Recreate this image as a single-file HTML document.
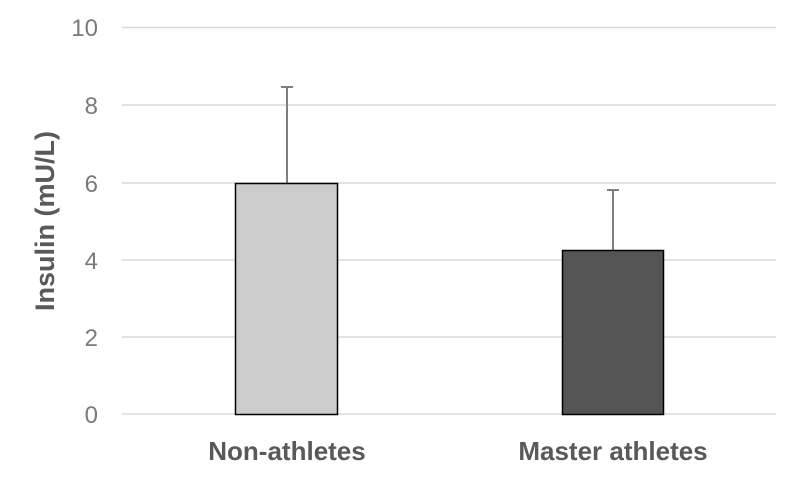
<!DOCTYPE html>
<html><head><style>body{margin:0;background:#fff}</style></head><body>
<svg width="800" height="481" xmlns="http://www.w3.org/2000/svg" font-family="Liberation Sans, sans-serif">
<g stroke="#d9d9d9" stroke-width="1.5">
<line x1="122" x2="776" y1="27.5" y2="27.5"/>
<line x1="122" x2="776" y1="105" y2="105"/>
<line x1="122" x2="776" y1="183" y2="183"/>
<line x1="122" x2="776" y1="260" y2="260"/>
<line x1="122" x2="776" y1="337" y2="337"/>
<line x1="122" x2="776" y1="414" y2="414"/>
</g>
<g fill="#7a7a7a" font-size="24" text-anchor="end">
<text x="98" y="36">10</text><text x="98" y="114">8</text><text x="98" y="192">6</text>
<text x="98" y="269">4</text><text x="98" y="346">2</text><text x="98" y="423">0</text>
</g>
<g stroke="#7f7f7f" stroke-width="2">
<line x1="287" x2="287" y1="87" y2="183"/><line x1="281" x2="293" y1="87" y2="87"/>
<line x1="613" x2="613" y1="190" y2="250"/><line x1="607" x2="619" y1="190" y2="190"/>
</g>
<rect x="235.5" y="183.5" width="102" height="231" fill="#cccccc" stroke="#000" stroke-width="1.5"/>
<rect x="562.5" y="250.5" width="101" height="164" fill="#545454" stroke="#000" stroke-width="1.5"/>
<g fill="#595959" font-size="26" font-weight="bold" text-anchor="middle">
<text x="287" y="460">Non-athletes</text><text x="613" y="460">Master athletes</text>
<text transform="translate(54,221) rotate(-90)" font-size="27">Insulin (mU/L)</text>
</g>
</svg>
</body></html>
